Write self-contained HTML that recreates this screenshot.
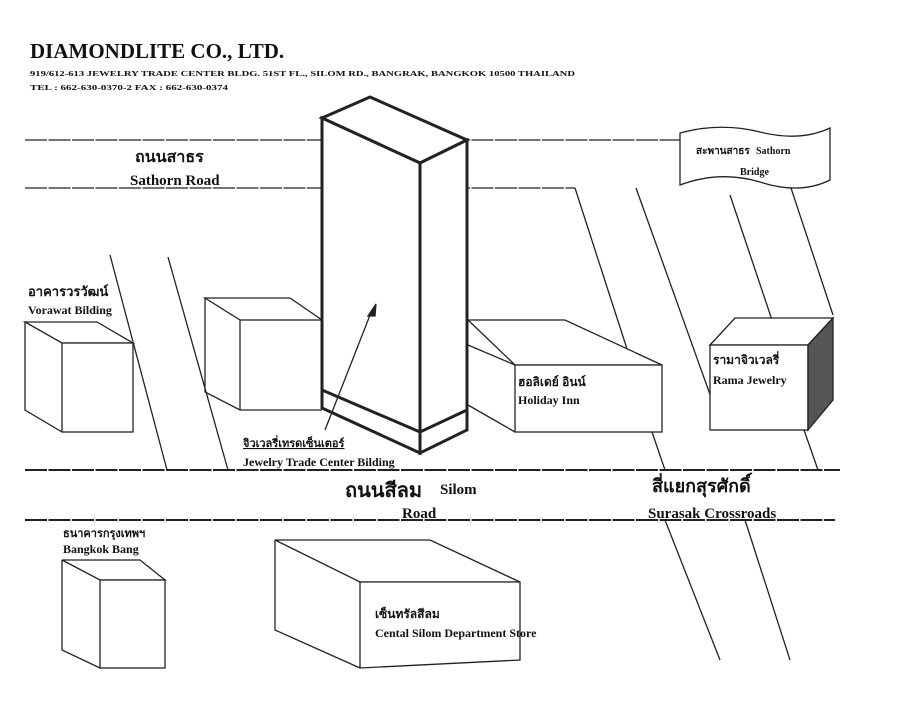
<!DOCTYPE html>
<html><head><meta charset="utf-8"><style>
body{margin:0;background:#fff}
svg text{font-family:"Liberation Serif","Noto Sans CJK SC",serif;font-weight:bold;fill:#111}
.t{font-family:"Liberation Sans","Noto Sans CJK SC",sans-serif}
</style></head><body>
<svg width="900" height="700" viewBox="0 0 900 700" xmlns="http://www.w3.org/2000/svg">
<g stroke="#222" fill="none" stroke-width="1.3">
<!-- roads -->
<line x1="25" y1="140" x2="680" y2="140" stroke-dasharray="22,1.5"/>
<line x1="25" y1="188" x2="575" y2="188" stroke-dasharray="22,1.5"/>
<line x1="575" y1="188" x2="628" y2="352"/>
<line x1="25" y1="470" x2="840" y2="470" stroke-dasharray="22,1.5" stroke-width="2"/>
<line x1="25" y1="520" x2="835" y2="520" stroke-dasharray="22,1.5" stroke-width="2"/>
<!-- diagonal streets -->
<line x1="110" y1="255" x2="167" y2="470"/>
<line x1="168" y1="257" x2="228" y2="470"/>
<line x1="652" y1="432" x2="665" y2="470"/>
<line x1="636" y1="188" x2="712" y2="400"/>
<line x1="730" y1="195" x2="772" y2="320"/>
<line x1="790" y1="185" x2="833" y2="315"/>
<line x1="804" y1="430" x2="818" y2="470"/>
<line x1="665" y1="520" x2="720" y2="660"/>
<line x1="745" y1="520" x2="790" y2="660"/>
<!-- left center building -->
<polygon points="205,298 290,298 322,320 240,320" fill="#fff"/>
<polyline points="205,298 205,392 240,410 322,410"/>
<line x1="240" y1="320" x2="240" y2="410"/>
<!-- Vorawat -->
<polygon points="25,322 97,322 133,343 62,343" fill="#fff"/>
<rect x="62" y="343" width="71" height="89" fill="#fff"/>
<polyline points="25,322 25,410 62,432"/>
<!-- Holiday Inn -->
<polygon points="468,320 565,320 662,365 515,365" fill="#fff"/>
<rect x="515" y="365" width="147" height="67" fill="#fff"/>
<polyline points="468,345 515,365"/>
<polyline points="468,405 515,432"/>
<!-- Rama -->
<polygon points="710,345 735,318 833,318 808,345" fill="#fff"/>
<rect x="710" y="345" width="98" height="85" fill="#fff"/>
<polygon points="808,345 833,318 833,400 808,430" fill="#555"/>
<!-- Bangkok bank -->
<polygon points="62,560 140,560 165,580 100,580" fill="#fff"/>
<rect x="100" y="580" width="65" height="88" fill="#fff"/>
<polyline points="62,560 62,650 100,668"/>
<!-- Central -->
<polygon points="275,540 430,540 520,582 360,582" fill="#fff"/>
<polygon points="360,582 520,582 520,660 360,668" fill="#fff"/>
<polyline points="275,540 275,630 360,668"/>
<!-- tall tower -->
<g stroke-width="3">
<polygon points="322,118 370,97 467,140 420,163" fill="#fff"/>
<polygon points="322,118 420,163 420,453 322,408" fill="#fff"/>
<polygon points="420,163 467,140 467,430 420,453" fill="#fff"/>
<polyline points="322,390 420,432 467,410"/>
</g>
<line x1="325" y1="430" x2="372" y2="310"/>
<polygon points="376,304 368,316 375,316" fill="#222"/>
<!-- bridge banner -->
<path d="M680,133 Q720,122 760,132 Q800,142 830,128 L830,180 Q800,195 760,182 Q720,170 680,185 Z" fill="#fff"/>
</g>
<text x="30" y="58" font-size="21">DIAMONDLITE CO., LTD.</text>
<text x="30" y="76" font-size="7.6" textLength="545" lengthAdjust="spacingAndGlyphs">919/612-613 JEWELRY TRADE CENTER BLDG. 51ST FL., SILOM RD., BANGRAK, BANGKOK 10500 THAILAND</text>
<text x="30" y="90" font-size="7.6" textLength="198" lengthAdjust="spacingAndGlyphs">TEL : 662-630-0370-2    FAX : 662-630-0374</text>
<text class="t" x="135" y="162" font-size="16">ถนนสาธร</text>
<text x="130" y="185" font-size="15">Sathorn Road</text>
<text class="t" x="28" y="296" font-size="13">อาคารวรวัฒน์</text>
<text x="28" y="314" font-size="12">Vorawat Bilding</text>
<text class="t" x="243" y="447" font-size="11" text-decoration="underline">จิวเวลรี่เทรดเซ็นเตอร์</text>
<text x="243" y="466" font-size="12">Jewelry Trade Center Bilding</text>
<text class="t" x="518" y="386" font-size="12">ฮอลิเดย์ อินน์</text>
<text x="518" y="404" font-size="12">Holiday Inn</text>
<text class="t" x="713" y="364" font-size="12">รามาจิวเวลรี่</text>
<text x="713" y="384" font-size="12">Rama Jewelry</text>
<text class="t" x="696" y="154" font-size="10">สะพานสาธร</text>
<text x="756" y="154" font-size="10">Sathorn</text>
<text x="740" y="175" font-size="10">Bridge</text>
<text class="t" x="345" y="497" font-size="20">ถนนสีลม</text>
<text x="440" y="494" font-size="15" font-weight="normal">Silom</text>
<text x="402" y="518" font-size="15">Road</text>
<text class="t" x="652" y="492" font-size="18">สี่แยกสุรศักดิ์</text>
<text x="648" y="518" font-size="15">Surasak Crossroads</text>
<text class="t" x="63" y="537" font-size="11">ธนาคารกรุงเทพฯ</text>
<text x="63" y="553" font-size="12">Bangkok Bang</text>
<text class="t" x="375" y="618" font-size="12">เซ็นทรัลสีลม</text>
<text x="375" y="637" font-size="12">Cental Silom Department Store</text>
</svg>
</body></html>
